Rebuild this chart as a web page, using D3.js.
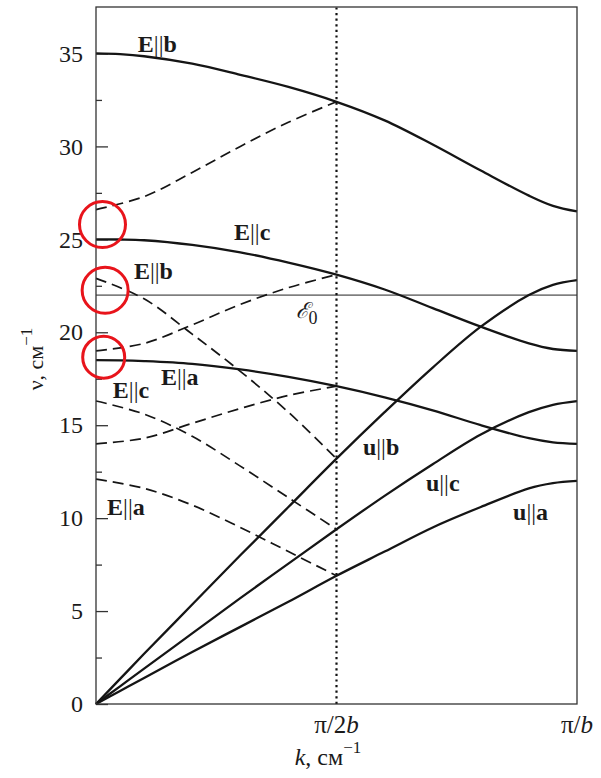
<!DOCTYPE html>
<html>
<head>
<meta charset="utf-8">
<script src="https://d3js.org/d3.v7.min.js"></script>
<style>
  body { margin: 0; background: #fff; }
  svg text { font-family: "Liberation Serif", "Times New Roman", Times, "DejaVu Serif", serif; fill: #1a1a1a; }
</style>
</head>
<body>
<div id="chart"></div>
<script>
// k in units of pi/b
var kFull = [0, 0.05, 0.1, 0.2, 0.3, 0.4, 0.5, 0.6, 0.7, 0.8, 0.9, 0.95, 1.0];
var kHalf = [0, 0.1, 0.2, 0.3, 0.4, 0.5];

// solid branches
var ebUpper = [35, 34.96, 34.85, 34.45, 33.85, 33.2, 32.4, 31.4, 30.1, 28.7, 27.35, 26.8, 26.5];
var ecMid   = [25, 24.99, 24.95, 24.7, 24.3, 23.75, 23.1, 22.3, 21.3, 20.3, 19.4, 19.1, 19.0];
var eaLow   = [18.5, 18.49, 18.45, 18.3, 18.0, 17.6, 17.1, 16.5, 15.8, 15.0, 14.3, 14.08, 14.0];
var ub      = [0, 1.35, 2.7, 5.35, 8.0, 10.6, 13.2, 15.7, 18.1, 20.3, 22.0, 22.55, 22.8];
var uc      = [0, 0.95, 1.9, 3.8, 5.7, 7.55, 9.4, 11.2, 12.9, 14.5, 15.7, 16.1, 16.3];
var ua      = [0, 0.7, 1.4, 2.8, 4.15, 5.5, 6.9, 8.2, 9.5, 10.6, 11.6, 11.88, 12.0];

// dashed (folded) branches, 0 .. pi/2b
var fold1 = [26.6, 27.3, 28.6, 30.0, 31.3, 32.4];
var fold2 = [22.9, 21.8, 19.9, 17.9, 15.7, 13.2];
var fold3 = [19.0, 19.4, 20.4, 21.5, 22.4, 23.1];
var fold4 = [16.3, 15.6, 14.4, 12.8, 11.1, 9.4];
var fold5 = [14.0, 14.3, 15.1, 15.9, 16.6, 17.1];
var fold6 = [12.1, 11.6, 10.7, 9.5, 8.2, 6.9];

var e0 = 22.0;
var yMajor = [0, 5, 10, 15, 20, 25, 30, 35];
var yMinor = [2.5, 7.5, 12.5, 17.5, 22.5, 27.5, 32.5];
var xTicks = [0.5, 1];

var labels = [
  { k: 0.087, v: 35.1,  a: "E", b: "b" },
  { k: 0.287, v: 24.95, a: "E", b: "c" },
  { k: 0.079, v: 22.85, a: "E", b: "b" },
  { k: 0.135, v: 17.15, a: "E", b: "a" },
  { k: 0.035, v: 16.45, a: "E", b: "c" },
  { k: 0.023, v: 10.16, a: "E", b: "a" },
  { k: 0.555, v: 13.39, a: "u", b: "b" },
  { k: 0.686, v: 11.45, a: "u", b: "c" },
  { k: 0.867, v: 9.89,  a: "u", b: "a" }
];

var circles = [
  { k: 0.0135, v: 25.8,  r: 23 },
  { k: 0.019,  v: 22.26, r: 23 },
  { k: 0.016,  v: 18.66, r: 21 }
];

var W = 601, H = 778;
var margin = { left: 96, right: 24, top: 7, bottom: 74 };
var iw = W - margin.left - margin.right,
    ih = H - margin.top - margin.bottom;

var svg = d3.select("#chart").append("svg")
    .attr("width", W)
    .attr("height", H);

var g = svg.append("g")
    .attr("transform", "translate(" + margin.left + "," + margin.top + ")");

var x = d3.scaleLinear().domain([0, 1]).range([0, iw]);
var y = d3.scaleLinear().domain([0, 37.5]).range([ih, 0]);

// y axis, ticks pointing inward
var yAxisMajor = d3.axisLeft(y).tickValues(yMajor).tickSize(-12).tickPadding(13);
var yAxisMinor = d3.axisLeft(y).tickValues(yMinor).tickSize(-6).tickFormat("");

var ya = g.append("g").call(yAxisMajor);
g.append("g").call(yAxisMinor);
g.selectAll(".domain").remove();
g.selectAll("g").attr("font-family", null);
g.selectAll(".tick line").attr("stroke", "#333").attr("stroke-width", 1.3);
ya.selectAll("text")
    .attr("font-size", 24)
    .attr("fill", "#1a1a1a");

// x tick labels
var xl = g.append("g").attr("transform", "translate(0," + ih + ")");
xl.selectAll("text").data(xTicks).enter().append("text")
    .attr("x", function(d) { return x(d); })
    .attr("y", 29)
    .attr("font-size", 25)
    .attr("text-anchor", "middle")
    .each(function(d) {
      var t = d3.select(this);
      t.append("tspan").text(d === 1 ? "\u03c0/" : "\u03c0/2");
      t.append("tspan").attr("font-style", "italic").text("b");
    });

// E0 line
g.append("line")
    .attr("x1", x(0)).attr("x2", x(1))
    .attr("y1", y(e0)).attr("y2", y(e0))
    .attr("stroke", "#222").attr("stroke-width", 1);

// dotted zone-boundary line at pi/2b
g.append("line")
    .attr("x1", x(0.5)).attr("x2", x(0.5))
    .attr("y1", y(0)).attr("y2", y(37.5))
    .attr("stroke", "#111").attr("stroke-width", 2.2)
    .attr("stroke-dasharray", "2.2,3.4");

var line = d3.line()
    .x(function(d) { return x(d[0]); })
    .y(function(d) { return y(d[1]); })
    .curve(d3.curveCatmullRom.alpha(0.5));

function pairs(ks, vs) { return ks.map(function(k, i) { return [k, vs[i]]; }); }

[ebUpper, ecMid, eaLow, ub, uc, ua].forEach(function(s) {
  g.append("path")
      .attr("d", line(pairs(kFull, s)))
      .attr("fill", "none")
      .attr("stroke", "#151515")
      .attr("stroke-width", 2.3);
});

[fold1, fold2, fold3, fold4, fold5, fold6].forEach(function(s) {
  g.append("path")
      .attr("d", line(pairs(kHalf, s)))
      .attr("fill", "none")
      .attr("stroke", "#151515")
      .attr("stroke-width", 1.7)
      .attr("stroke-dasharray", "11,6");
});

// frame
g.append("rect")
    .attr("x", 0).attr("y", 0)
    .attr("width", iw).attr("height", ih)
    .attr("fill", "none")
    .attr("stroke", "#333")
    .attr("stroke-width", 1.3);

// branch labels
labels.forEach(function(d) {
  var t = g.append("text")
      .attr("x", x(d.k))
      .attr("y", y(d.v))
      .attr("font-size", 24);
  t.append("tspan").attr("font-weight", "bold").text(d.a);
  t.append("tspan").attr("font-weight", "normal").text("||");
  t.append("tspan").attr("font-weight", "bold").text(d.b);
});

// E0 label
var e0t = g.append("text")
    .attr("x", x(0.415))
    .attr("y", y(e0) + 23)
    .attr("font-size", 22)
    .attr("font-style", "italic");
e0t.append("tspan").text("\u2130");
e0t.append("tspan").attr("font-size", 18).attr("font-style", "normal").attr("dy", 6).text("0");

// red circles
g.selectAll("circle.mark").data(circles).enter().append("circle")
    .attr("class", "mark")
    .attr("cx", function(d) { return x(d.k); })
    .attr("cy", function(d) { return y(d.v); })
    .attr("r", function(d) { return d.r; })
    .attr("fill", "none")
    .attr("stroke", "#e8141b")
    .attr("stroke-width", 3);

// axis titles
var yt = svg.append("text")
    .attr("transform", "translate(43,359) rotate(-90)")
    .attr("text-anchor", "middle")
    .attr("font-size", 22);
yt.append("tspan").text("\u03bd, \u0441\u043c");
yt.append("tspan").attr("font-size", 17).attr("dy", -11).text("\u22121");

var xt = svg.append("text")
    .attr("x", 328)
    .attr("y", 765)
    .attr("text-anchor", "middle")
    .attr("font-size", 24);
xt.append("tspan").attr("font-style", "italic").text("k");
xt.append("tspan").text(", \u0441\u043c");
xt.append("tspan").attr("font-size", 17).attr("dy", -12).text("\u22121");
</script>
</body>
</html>
